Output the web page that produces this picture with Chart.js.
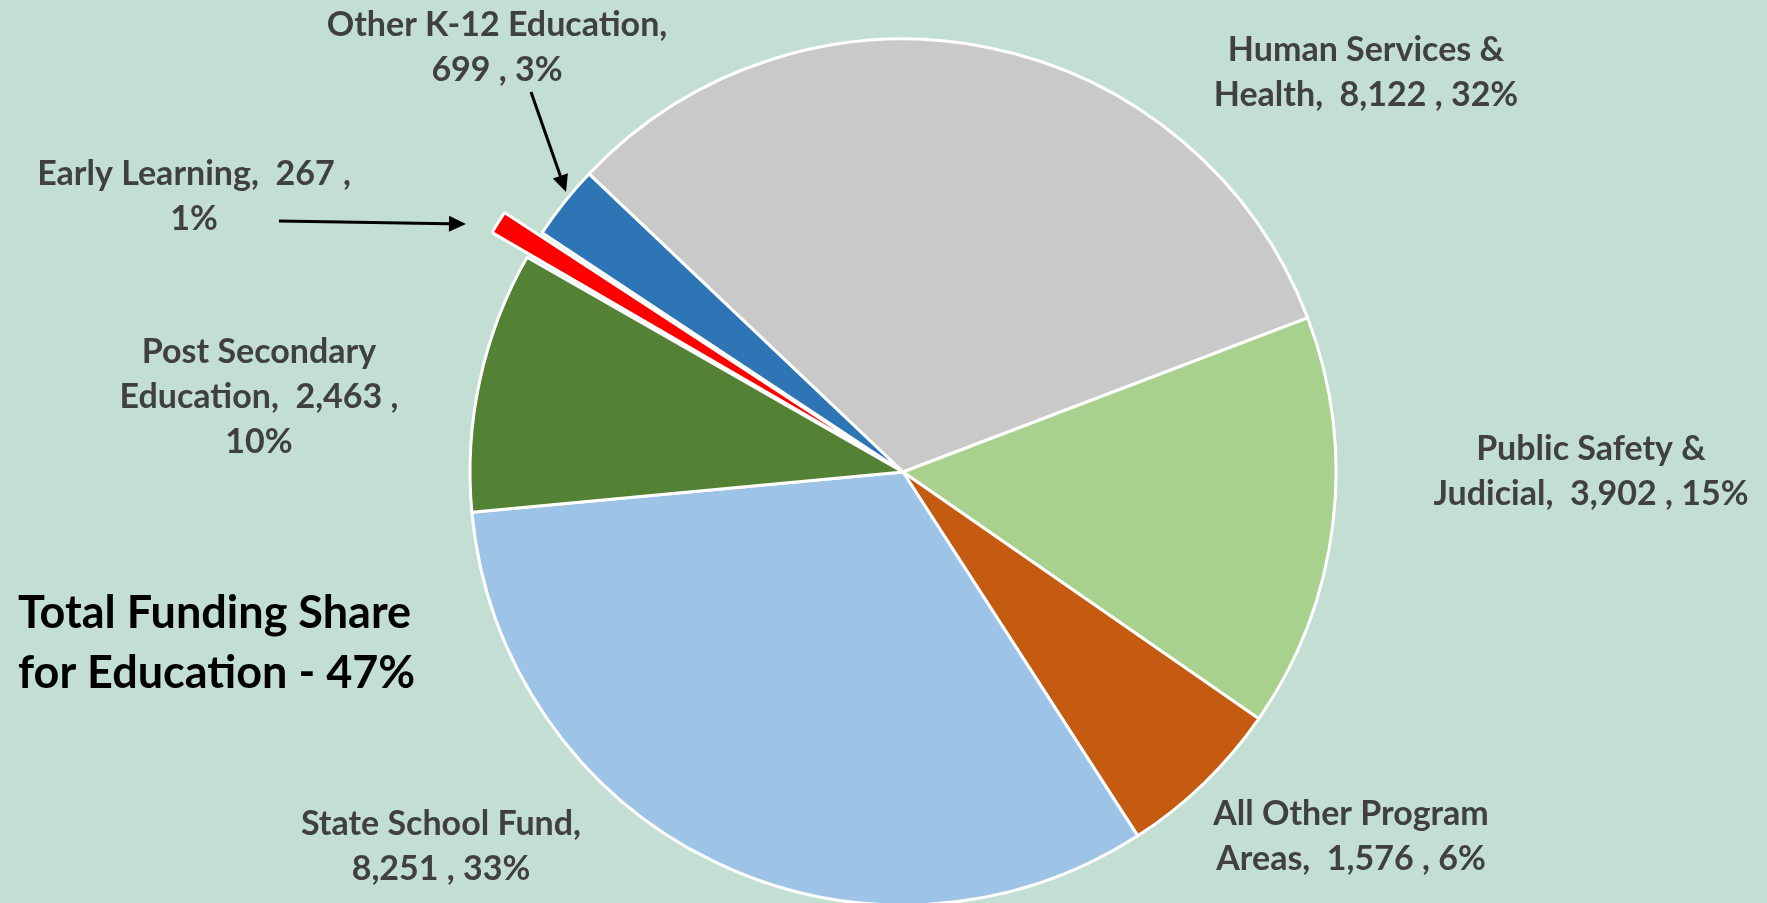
<!DOCTYPE html>
<html lang="en">
<head>
  <meta charset="UTF-8" />
  <title>Total Funding Share</title>
  <script src="https://cdn.jsdelivr.net/npm/chart.js"></script>
  <style>
    html, body {
      margin: 0;
      padding: 0;
      width: 1767px;
      height: 903px;
      overflow: hidden;
      background-color: #c3dfd3;
    }

    .chart-box {
      position: relative;
      width: 1767px;
      height: 903px;
    }
  </style>
</head>
<body>
  <div class="chart-box">
    <canvas id="fundingChart"></canvas>
  </div>

  <script>
    // Program areas, clockwise from the top-left edge of the grey slice
    const categories = [
      'Human Services &\nHealth',
      'Public Safety &\nJudicial',
      'All Other Program\nAreas',
      'State School Fund',
      'Post Secondary\nEducation',
      'Early Learning',
      'Other K-12 Education'
    ];
    const values = [8122, 3902, 1576, 8251, 2463, 267, 699];
    const shares = [32, 15, 6, 33, 10, 1, 3];
    const colors = ['#c9c9c9', '#a9d18e', '#c55a11', '#9dc3e6', '#548235', '#ff0000', '#2e75b6'];
    const offsets = [0, 0, 0, 0, 0, 88, 0];

    // where the data labels wrap
    const breakAfterName = [false, false, false, true, false, false, true];
    const breakBeforePct = [false, false, false, false, true, true, false];
    // label centre x and first baseline y
    const labelPos = [[1366, 61], [1591, 460], [1351, 825], [441, 835], [259, 363], [194, 185], [497, 36]];

    const fmt = v => v.toLocaleString('en-US');

    function labelLines(i) {
      const text = categories[i] + ',' + (breakAfterName[i] ? '\n' : '  ') +
        fmt(values[i]) + ' ,' + (breakBeforePct[i] ? '\n' : ' ') + shares[i] + '%';
      return text.split('\n');
    }

    function arrow(ctx, x1, y1, x2, y2) {
      const a = Math.atan2(y2 - y1, x2 - x1);
      const len = 17, half = 8;
      ctx.beginPath();
      ctx.moveTo(x1, y1);
      ctx.lineTo(x2 - len * Math.cos(a), y2 - len * Math.sin(a));
      ctx.stroke();
      ctx.beginPath();
      ctx.moveTo(x2, y2);
      ctx.lineTo(x2 - len * Math.cos(a) + half * Math.sin(a), y2 - len * Math.sin(a) - half * Math.cos(a));
      ctx.lineTo(x2 - len * Math.cos(a) - half * Math.sin(a), y2 - len * Math.sin(a) + half * Math.cos(a));
      ctx.closePath();
      ctx.fill();
    }

    const calloutPlugin = {
      id: 'callouts',
      afterDraw(chart) {
        const ctx = chart.ctx;
        ctx.save();
        ctx.textAlign = 'center';
        ctx.textBaseline = 'alphabetic';
        ctx.fillStyle = '#404040';
        ctx.font = 'bold 34px Lato';
        categories.forEach((c, i) => {
          const [x, y] = labelPos[i];
          labelLines(i).forEach((line, k) => ctx.fillText(line, x, y + k * 45));
        });

        // arrows to the two thin education slices
        ctx.strokeStyle = '#000';
        ctx.fillStyle = '#000';
        ctx.lineWidth = 3;
        arrow(ctx, 279, 221, 466, 224);
        arrow(ctx, 531, 92, 566, 192);

        ctx.textAlign = 'left';
        ctx.fillStyle = '#000';
        ctx.font = 'bold 45px Lato';
        ctx.fillText('Total Funding Share', 18, 628);
        ctx.fillText('for Education - 47%', 18, 688);
        ctx.restore();
      }
    };

    const ctx = document.getElementById('fundingChart').getContext('2d');
    new Chart(ctx, {
      type: 'pie',
      data: {
        labels: categories,
        datasets: [{
          data: values,
          backgroundColor: colors,
          borderColor: '#ffffff',
          borderWidth: 3,
          offset: offsets,
          clip: false
        }]
      },
      options: {
        responsive: true,
        maintainAspectRatio: false,
        animation: false,
        events: [],
        rotation: 313.5,
        radius: 433,
        layout: { padding: { left: 39, top: 41, right: 0, bottom: 0 } },
        plugins: {
          legend: { display: false },
          tooltip: { enabled: false }
        }
      },
      plugins: [calloutPlugin]
    });
  </script>
</body>
</html>
